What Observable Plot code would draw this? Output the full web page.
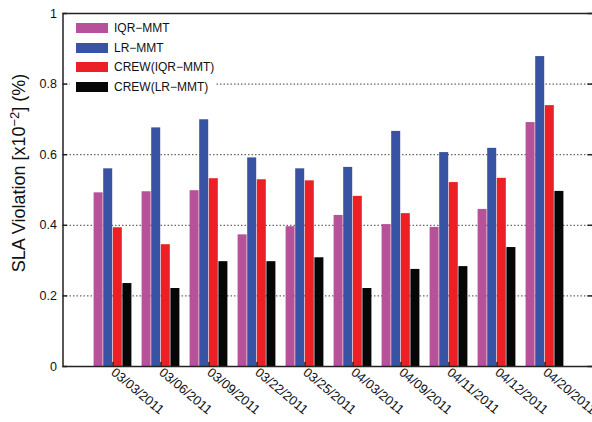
<!DOCTYPE html>
<html><head><meta charset="utf-8">
<script src="https://cdn.jsdelivr.net/npm/d3@7"></script>
<script src="https://cdn.jsdelivr.net/npm/@observablehq/plot@0.6"></script>
<style>
body{margin:0;background:#fff;font-family:"Liberation Sans",Arial,sans-serif;}
#wrap{position:relative;width:592px;height:422px;overflow:hidden;}
#legend{position:absolute;left:70px;top:18px;background:#fff;padding:0 1px 0 6px;}
.row{display:flex;align-items:center;height:19.8px;font-size:12px;color:#111;white-space:nowrap;}
.sw{width:32px;height:10px;margin-right:6px;}
</style></head><body><div id="wrap"></div>
<script>
const dates = ["03/03/2011","03/06/2011","03/09/2011","03/22/2011","03/25/2011","04/03/2011","04/09/2011","04/11/2011","04/12/2011","04/20/2011"];
const series = ["IQR\u2212MMT","LR\u2212MMT","CREW(IQR\u2212MMT)","CREW(LR\u2212MMT)"];
const colors = ["#b8519c","#3953a4","#ec1f26","#060606"];
const iqrMmt  = [0.492,0.495,0.498,0.373,0.396,0.428,0.402,0.394,0.445,0.691];
const lrMmt   = [0.560,0.676,0.699,0.591,0.560,0.564,0.666,0.606,0.618,0.878];
const crewIqr = [0.393,0.345,0.532,0.529,0.526,0.482,0.433,0.521,0.533,0.739];
const crewLr  = [0.235,0.221,0.297,0.297,0.308,0.221,0.275,0.283,0.337,0.496];
const yTicks = [0,0.2,0.4,0.6,0.8,1];
const gridTicks = [0.2,0.4,0.6,0.8];
const yLabelParts = ["SLA Violation [x10", "\u22122", "] (%)"];

const valuesBySeries = [iqrMmt, lrMmt, crewIqr, crewLr];
const rows = [];
series.forEach((s, i) => dates.forEach((d, j) => rows.push({date: d, series: s, value: valuesBySeries[i][j]})));

const axisColor = "#222";
const barMarks = series.map((s, i) =>
  Plot.barY(rows.filter(r => r.series === s), {x: "date", y: "value", fill: colors[i], dx: (i - 1.5) * 9.6})
);

const chart = Plot.plot({
  width: 592, height: 422,
  marginLeft: 62.5, marginRight: 0, marginTop: 13, marginBottom: 56,
  style: {fontFamily: "'Liberation Sans', Arial, sans-serif", fontSize: "12.5px", color: "#111", background: "#fff"},
  x: {domain: dates, paddingInner: 0.8073, paddingOuter: 0.8896, align: 0.51, tickSize: 0, tickRotate: 40, tickPadding: 4, label: null},
  y: {domain: [0, 1], ticks: 5, tickSize: 0, tickPadding: 6, tickFormat: d => `${d}`, label: null},
  marks: [
    Plot.ruleY(gridTicks, {y: d => d, stroke: "#444", strokeDasharray: "1.5,2", strokeWidth: 1}),
    ...barMarks,
    Plot.tickX(dates, {x: d => d, insetTop: 349, stroke: axisColor, strokeWidth: 1.5}),
    Plot.tickY(yTicks, {y: d => d, insetRight: 525, stroke: axisColor, strokeWidth: 1.5}),
    Plot.tickY(yTicks, {y: d => d, insetLeft: 525, stroke: axisColor, strokeWidth: 1.5}),
    Plot.frame({stroke: axisColor, strokeWidth: 1.5, insetRight: -4}),
    Plot.text([yLabelParts.join("")], {frameAnchor: "left", textAnchor: "middle", rotate: -90, dx: -44, dy: -17, fontSize: 18, fill: "#111"})
  ]
});
// x tick labels slightly larger
chart.querySelectorAll("[aria-label='x-axis tick label'] text, g[aria-label='x-axis'] text").forEach(t => t.setAttribute("font-size", 13));
// MATLAB-style superscript in y label
const lbl = Array.from(chart.querySelectorAll("text")).find(t => t.textContent === yLabelParts.join(""));
if (lbl) {
  lbl.textContent = "";
  const ns = "http://www.w3.org/2000/svg";
  const a = document.createElementNS(ns, "tspan"); a.textContent = yLabelParts[0];
  const b = document.createElementNS(ns, "tspan"); b.textContent = yLabelParts[1];
  b.setAttribute("dy", "-0.45em"); b.setAttribute("font-size", "0.72em");
  const c = document.createElementNS(ns, "tspan"); c.textContent = yLabelParts[2];
  c.setAttribute("dy", "0.32em");
  lbl.append(a, b, c);
}
const wrap = document.getElementById("wrap");
wrap.appendChild(chart);

const legend = document.createElement("div");
legend.id = "legend";
series.forEach((s, i) => {
  const row = document.createElement("div");
  row.className = "row";
  const sw = document.createElement("div");
  sw.className = "sw";
  sw.style.background = colors[i];
  const t = document.createElement("span");
  t.textContent = s;
  row.appendChild(sw); row.appendChild(t);
  legend.appendChild(row);
});
wrap.appendChild(legend);
</script></body></html>
